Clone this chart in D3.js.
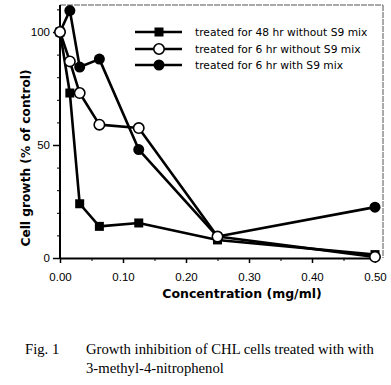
<!DOCTYPE html>
<html>
<head>
<meta charset="utf-8">
<script src="https://cdn.jsdelivr.net/npm/d3@7"></script>
<style>
body{margin:0;background:#fff}
svg{display:block}
</style>
</head>
<body>
<div id="chart"></div>
<script>

const conc = [0, 0.015625, 0.03125, 0.0625, 0.125, 0.25, 0.5]
const series48noS9 = [100, 73, 24, 14, 15.5, 8, 1.5]
const series6noS9 = [100, 87, 73, 59, 57.5, 9.5, 0.5]
const series6S9 = [100, 109.5, 84.5, 88, 48, 9.5, 22.5]
const legendLabels = ["treated for 48 hr without S9 mix", "treated for 6 hr without S9 mix", "treated for 6 hr with S9 mix"]
const xTicks = [0, 0.1, 0.2, 0.3, 0.4, 0.5]
const yTicks = [0, 50, 100]

const width = 391
const height = 385

const svg = d3.select("#chart")
.append("svg")
.attr("width", width)
.attr("height", height)

const x = d3.scaleLinear().domain([0, 0.5]).range([60, 375])
const y = d3.scaleLinear().domain([0, 100]).range([258, 32])

const frameTop = 5, frameRight = 383
const sans = "DejaVu Sans, Verdana, sans-serif"
const tickFont = "Liberation Sans, Arial, sans-serif"
const serif = "Liberation Serif, Times New Roman, serif"

// frame
svg.append("line").attr("x1",60).attr("x2",frameRight).attr("y1",frameTop).attr("y2",frameTop)
.attr("stroke","#555").attr("stroke-width",1).attr("stroke-dasharray","6,1")
svg.append("line").attr("x1",frameRight).attr("x2",frameRight).attr("y1",frameTop).attr("y2",y(0))
.attr("stroke","#555").attr("stroke-width",1).attr("stroke-dasharray","6,1")

// x axis
const xAxis = svg.append("g")
.attr("transform", `translate(0,${y(0)})`)
.call(d3.axisBottom(x).tickValues(xTicks).tickFormat(d3.format(".2f")).tickSize(5).tickSizeOuter(0))
xAxis.select(".domain").attr("stroke-width",2)
xAxis.selectAll("text").attr("font-family",tickFont).attr("font-size","11.5px").attr("y",23).attr("dy",null)
xAxis.selectAll(".tick line").attr("stroke-width",1.5)

svg.append("g")
.attr("transform", `translate(0,${y(0)})`)
.call(d3.axisBottom(x).tickValues(d3.range(0.05, 0.5, 0.1)).tickSize(3).tickFormat(""))
.call(g=>g.select(".domain").remove())

// y axis
const yAxis = svg.append("g")
.attr("transform", `translate(${x(0)},0)`)
.call(d3.axisLeft(y).tickValues(yTicks).tickSize(7).tickSizeOuter(0))
yAxis.select(".domain").attr("d", `M0,${y(0)}V${frameTop}`).attr("stroke-width",2)
yAxis.selectAll("text").attr("font-family",tickFont).attr("font-size","11.5px").attr("x",-10)
yAxis.selectAll(".tick line").attr("stroke-width",1.5)

svg.append("g")
.attr("transform", `translate(${x(0)},0)`)
.call(d3.axisLeft(y).tickValues(d3.range(10, 111, 10).filter(v=>v%50!==0)).tickSize(3).tickFormat(""))
.call(g=>g.select(".domain").remove())

// axis titles
svg.append("text")
.attr("transform","translate(30,158) rotate(-90)")
.attr("text-anchor","middle")
.attr("font-family",sans)
.attr("font-weight","bold")
.attr("font-size","12.2px")
.text("Cell growth (% of control)")

svg.append("text")
.attr("x",242).attr("y",298)
.attr("text-anchor","middle")
.attr("font-family",sans)
.attr("font-weight","bold")
.attr("font-size","12.5px")
.text("Concentration (mg/ml)")

// lines
const line = d3.line().x((d,i)=>x(conc[i])).y(d=>y(d))

const drawSeries = (vals) => {
svg.append("path")
.datum(vals)
.attr("d", line)
.attr("fill","none")
.attr("stroke","#000")
.attr("stroke-width",2.6)
.attr("stroke-linejoin","round")
}

drawSeries(series48noS9)
drawSeries(series6S9)
drawSeries(series6noS9)

svg.selectAll(".sq")
.data(series48noS9)
.enter()
.append("rect")
.attr("x",(d,i)=>x(conc[i])-4.5)
.attr("y",d=>y(d)-4.5)
.attr("width",9)
.attr("height",9)
.attr("fill","#000")

svg.selectAll(".fc")
.data(series6S9)
.enter()
.append("circle")
.attr("cx",(d,i)=>x(conc[i]))
.attr("cy",d=>y(d))
.attr("r",5.5)
.attr("fill","#000")

svg.selectAll(".oc")
.data(series6noS9)
.enter()
.append("circle")
.attr("cx",(d,i)=>x(conc[i]))
.attr("cy",d=>y(d))
.attr("r",5.2)
.attr("fill","#fff")
.attr("stroke","#000")
.attr("stroke-width",1.6)

// legend
const legendY = [32, 49, 65]
const legend = svg.append("g")
legendLabels.forEach((lab,i)=>{
const ly = legendY[i]
legend.append("line").attr("x1",135).attr("x2",182).attr("y1",ly).attr("y2",ly)
.attr("stroke","#000").attr("stroke-width",2.6)
if(i===0){
legend.append("rect").attr("x",154.5).attr("y",ly-4.5).attr("width",9).attr("height",9).attr("fill","#000")
}else if(i===1){
legend.append("circle").attr("cx",159).attr("cy",ly).attr("r",5.2).attr("fill","#fff").attr("stroke","#000").attr("stroke-width",1.6)
}else{
legend.append("circle").attr("cx",159).attr("cy",ly).attr("r",5.5).attr("fill","#000")
}
legend.append("text").attr("x",195).attr("y",ly+4)
.attr("font-family",sans)
.attr("font-size","10.7px")
.text(lab)
})

// caption
svg.append("text")
.attr("x",25).attr("y",354)
.attr("font-family",serif)
.attr("font-size","14.7px")
.text("Fig. 1")
svg.append("text")
.attr("x",86).attr("y",354)
.attr("font-family",serif)
.attr("font-size","14.7px")
.text("Growth inhibition of CHL cells treated with with")
svg.append("text")
.attr("x",86).attr("y",373)
.attr("font-family",serif)
.attr("font-size","14.7px")
.text("3-methyl-4-nitrophenol")

</script>
</body>
</html>
